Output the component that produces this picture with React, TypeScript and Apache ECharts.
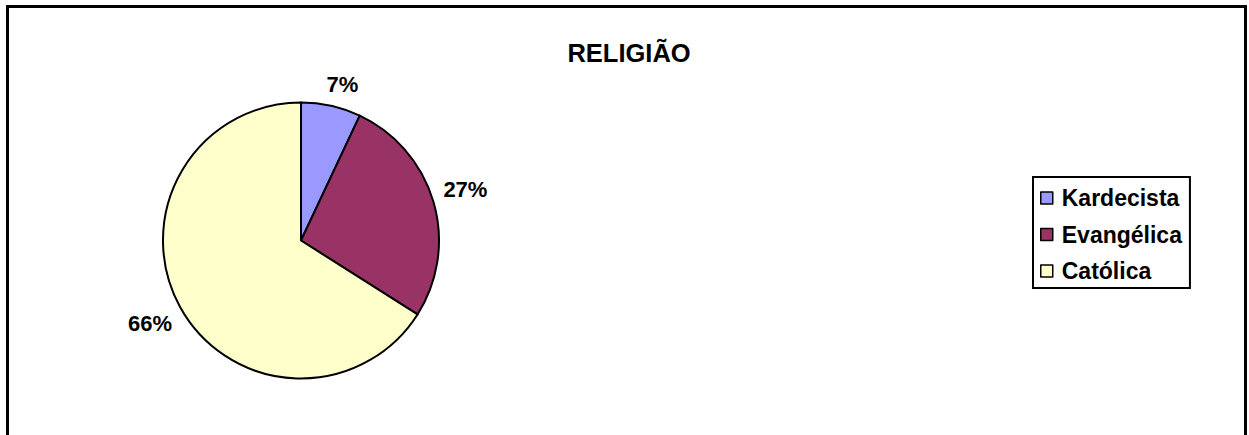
import React, { useEffect, useRef } from "react";
import * as echarts from "echarts";

const categories = ["Kardecista", "Evangélica", "Católica"];
const values = [7, 27, 66];
const colors = ["#9999FF", "#993366", "#FFFFCC"];
const titleText = "RELIGIÃO";

const W = 1249;
const H = 435;
const CX = 301;
const CY = 240.5;
const R = 138;
const GAP = 10;
const LABEL_SIZE = 22;
const FONT = "'Liberation Sans', Arial, sans-serif";

export default function App() {
  const ref = useRef<HTMLDivElement>(null);
  useEffect(() => {
    if (!ref.current) return;
    const chart = echarts.init(ref.current, undefined, { renderer: "svg" });
    const total = values.reduce((a, b) => a + b, 0);
    chart.setOption({
      animation: false,
      backgroundColor: "#ffffff",
      title: {
        text: titleText,
        left: 624,
        top: 35,
        textAlign: "center",
        textStyle: { fontFamily: FONT, fontWeight: "bold", fontSize: 25.5, color: "#000" },
      },
      legend: {
        orient: "vertical",
        left: 1033,
        top: 177,
        selectedMode: false,
        data: categories,
        icon: "rect",
        itemWidth: 12,
        itemHeight: 12,
        itemGap: 13.5,
        padding: [9.5, 8, 5.5, 7],
        borderColor: "#000",
        borderWidth: 2,
        itemStyle: { borderColor: "#000", borderWidth: 1.5 },
        textStyle: {
          fontFamily: FONT,
          fontWeight: "bold",
          fontSize: 23,
          lineHeight: 23,
          color: "#000",
          padding: [0, 0, 0, 4],
        },
      },
      graphic: [
        {
          type: "rect",
          silent: true,
          z: -1,
          shape: { x: 7.5, y: 6.5, width: 1238, height: 500 },
          style: { fill: "none", stroke: "#000", lineWidth: 3 },
        },
      ],
      series: [
        {
          type: "pie",
          center: [CX, CY],
          radius: R,
          startAngle: 90,
          clockwise: true,
          avoidLabelOverlap: false,
          data: categories.map((name, i) => ({
            name,
            value: values[i],
            itemStyle: { color: colors[i] },
          })),
          itemStyle: { borderColor: "#000", borderWidth: 2 },
          label: {
            show: true,
            position: "outside",
            formatter: "{d}%",
            fontFamily: FONT,
            fontWeight: "bold",
            fontSize: LABEL_SIZE,
            color: "#000",
          },
          labelLine: { show: false, length: 10, length2: 0 },
          emphasis: { disabled: true },
          labelLayout: (params: any) => {
            const i = params.dataIndex;
            let before = 0;
            for (let k = 0; k < i; k++) before += values[k];
            const mid = ((90 - ((before + values[i] / 2) / total) * 360) * Math.PI) / 180;
            const c = Math.cos(mid);
            const s = Math.sin(mid);
            const hw = params.labelRect.width / 2;
            const hh = LABEL_SIZE * 0.38;
            const d0 = R + GAP;
            const ext = Math.abs(c) * hw + Math.abs(s) * hh;
            const rx = CX + c * (d0 + ext);
            const ry = CY - s * (d0 + ext);
            const kx = CX + c * d0 + Math.sign(c) * hw;
            const ky = CY - s * d0 - Math.sign(s) * hh;
            return {
              x: (rx + kx) / 2,
              y: (ry + ky) / 2 - (s > 0 ? 2 : -2),
              align: "center",
              verticalAlign: "middle",
            };
          },
        },
      ],
    });
    return () => chart.dispose();
  }, []);
  return <div ref={ref} style={{ position: "absolute", left: 0, top: 0, width: W, height: H }} />;
}
